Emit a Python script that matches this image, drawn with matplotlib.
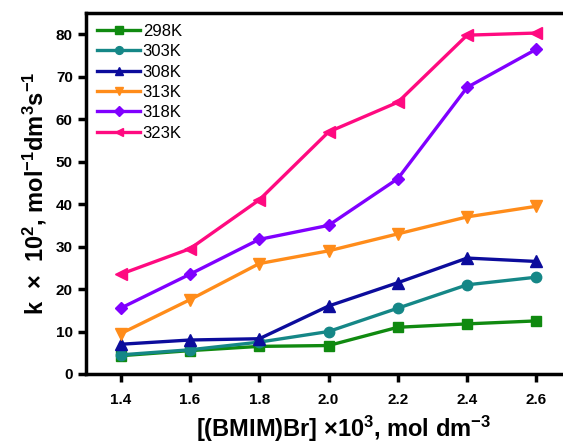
import matplotlib.pyplot as plt

plt.rcParams['font.family'] = ['Liberation Sans', 'DejaVu Sans']
plt.rcParams['mathtext.fontset'] = 'custom'
plt.rcParams['mathtext.rm'] = 'Liberation Sans:bold'
plt.rcParams['mathtext.bf'] = 'Liberation Sans:bold'
plt.rcParams['mathtext.default'] = 'bf'

conc = [1.4, 1.6, 1.8, 2.0, 2.2, 2.4, 2.6]
k298 = [4.3, 5.5, 6.5, 6.7, 11.0, 11.8, 12.5]
k303 = [4.5, 5.7, 7.5, 10.0, 15.5, 21.0, 22.8]
k308 = [7.0, 8.0, 8.3, 16.0, 21.5, 27.3, 26.5]
k313 = [9.5, 17.5, 26.0, 29.0, 33.0, 37.0, 39.5]
k318 = [15.5, 23.5, 31.7, 35.0, 46.0, 67.5, 76.5]
k323 = [23.5, 29.5, 41.0, 57.0, 64.0, 79.8, 80.3]
labels = ['298K', '303K', '308K', '313K', '318K', '323K']

series = [k298, k303, k308, k313, k318, k323]
colors = ['#108a10', '#158787', '#0c0c9c', '#ff8c1a', '#8000ff', '#ff0a80']
markers = ['s', 'o', '^', 'v', 'D', '<']
msizes = [7, 7.5, 8, 8, 6.5, 8]

fig = plt.figure(figsize=(5.63, 4.45), dpi=100)
ax = fig.add_axes([0.1528, 0.1596, 0.8615, 0.811])

for y, c, m, ms, lab in zip(series, colors, markers, msizes, labels):
    ax.plot(conc, y, color=c, marker=m, markersize=ms, linewidth=2.4,
            markeredgecolor=c, label=lab)

ax.set_xlim(1.3, 2.7)
ax.set_ylim(0, 85)
ax.set_xticks(conc)
ax.set_xticklabels([f'{v:.1f}' for v in conc])
ax.set_yticks(range(0, 81, 10))

for s in ax.spines.values():
    s.set_linewidth(2.5)
ax.tick_params(axis='both', direction='out', length=6, width=2.5, labelsize=11)
ax.tick_params(axis='x', pad=8)
for t in ax.get_xticklabels() + ax.get_yticklabels():
    t.set_fontweight('bold')

ax.set_xlabel('[(BMIM)Br] ×10$^{3}$, mol dm$^{-3}$', fontsize=17,
              fontweight='bold')
ax.xaxis.set_label_coords(0.53, -0.11)
ax.set_ylabel('k  ×  10$^{2}$, mol$^{-1}$dm$^{3}$s$^{-1}$', fontsize=17,
              fontweight='bold', labelpad=5)

ax.legend(loc='upper left', frameon=False, fontsize=12, handlelength=2.6,
          handletextpad=0.15, labelspacing=0.32, borderaxespad=0.35,
          borderpad=0.3, markerscale=0.75)

fig.savefig('out.png', dpi=100)
